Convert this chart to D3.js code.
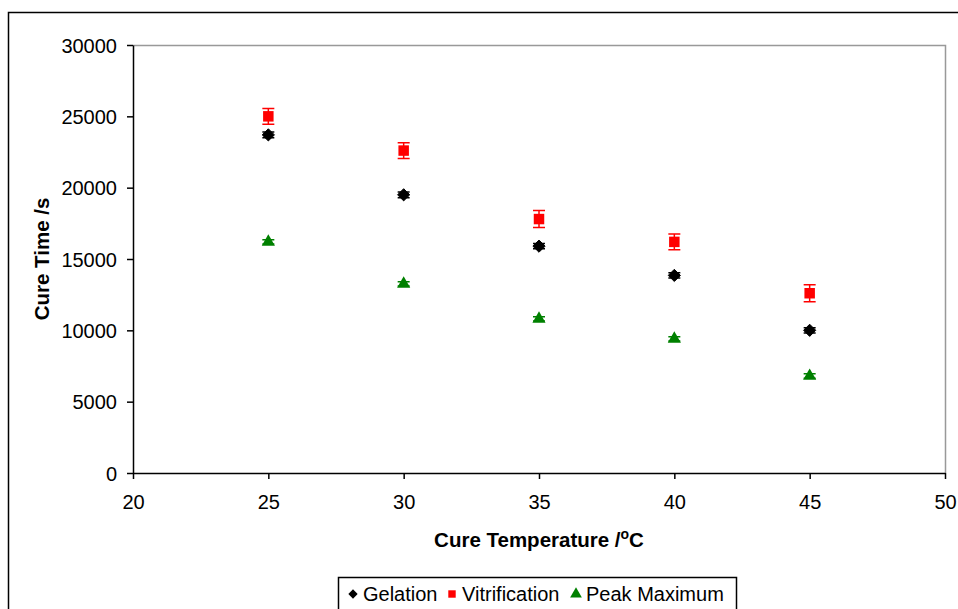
<!DOCTYPE html>
<html>
<head>
<meta charset="utf-8">
<script src="https://cdnjs.cloudflare.com/ajax/libs/d3/7.8.5/d3.min.js"></script>
<style>
  body { margin: 0; background: #fff; }
  text { font-family: "Liberation Sans", Arial, sans-serif; }
</style>
</head>
<body>
<div id="chart"></div>
<script>
var svgWidth = 958;
var svgHeight = 609;

var margin = { top: 45, right: 13, bottom: 136, left: 133 };
var width = svgWidth - margin.left - margin.right;
var height = svgHeight - margin.top - margin.bottom;

// data
var temps = [25, 30, 35, 40, 45];
var gelation = [23700, 19500, 15900, 13850, 10000];
var gelationErr = [200, 200, 180, 180, 180];
var vitrification = [25000, 22600, 17800, 16200, 12600];
var vitrificationErr = [550, 550, 600, 550, 600];
var peakMax = [16200, 13250, 10800, 9400, 6800];
var peakMaxErr = [150, 150, 150, 150, 150];
var xTicks = [20, 25, 30, 35, 40, 45, 50];
var yTicks = [0, 5000, 10000, 15000, 20000, 25000, 30000];

var seriesList = [
  { name: "Gelation", values: gelation, err: gelationErr, color: "#000000", shape: d3.symbolDiamond2, size: 95 },
  { name: "Vitrification", values: vitrification, err: vitrificationErr, color: "#ff0000", shape: d3.symbolSquare, size: 110 },
  { name: "Peak Maximum", values: peakMax, err: peakMaxErr, color: "#008000", shape: d3.symbolTriangle, size: 75 }
];

var svg = d3.select("#chart")
  .append("svg")
  .attr("width", svgWidth)
  .attr("height", svgHeight);

// outer chart border
svg.append("rect")
  .attr("x", 8.5).attr("y", 12.5)
  .attr("width", 960).attr("height", 620)
  .attr("fill", "none")
  .attr("stroke", "#000")
  .attr("stroke-width", 1.5);

var chartGroup = svg.append("g")
  .attr("transform", `translate(${margin.left}, ${margin.top})`);

var xScale = d3.scaleLinear().domain([20, 50]).range([0, width]);
var yScale = d3.scaleLinear().domain([0, 30000]).range([height, 0]);

// plot area top / right border (gray)
chartGroup.append("path")
  .attr("d", `M0,0.5H${width + 0.5}V${height}`)
  .attr("fill", "none")
  .attr("stroke", "#999")
  .attr("stroke-width", 1.5);

var bottomAxis = d3.axisBottom(xScale).tickValues(xTicks).tickSize(6).tickSizeOuter(0).tickPadding(16);
var leftAxis = d3.axisLeft(yScale).tickValues(yTicks).tickFormat(d3.format("d")).tickSize(6).tickSizeOuter(0).tickPadding(10);

var xg = chartGroup.append("g")
  .attr("transform", `translate(0, ${height})`)
  .call(bottomAxis);
var yg = chartGroup.append("g").call(leftAxis);

[xg, yg].forEach(function(g) {
  g.attr("font-size", 20).attr("font-family", "'Liberation Sans', Arial, sans-serif");
  g.selectAll("path, line").attr("stroke", "#000").attr("stroke-width", 1.5);
  g.selectAll("text").attr("fill", "#000");
});
yg.selectAll("text").attr("dy", "0.35em");

// series
seriesList.forEach(function(s) {
  var g = chartGroup.append("g");
  var pts = temps.map(function(t, i) { return { x: t, y: s.values[i], e: s.err[i] }; });

  g.selectAll(".err").data(pts).enter().append("path")
    .attr("d", function(d) {
      var x = xScale(d.x), y1 = yScale(d.y + d.e), y2 = yScale(d.y - d.e);
      return `M${x - 6},${y1}H${x + 6}M${x},${y1}V${y2}M${x - 6},${y2}H${x + 6}`;
    })
    .attr("fill", "none")
    .attr("stroke", s.color)
    .attr("stroke-width", 1.5);

  g.selectAll(".pt").data(pts).enter().append("path")
    .attr("transform", function(d) { return `translate(${xScale(d.x)}, ${yScale(d.y)})`; })
    .attr("d", d3.symbol().type(s.shape).size(s.size)())
    .attr("fill", s.color)
    .attr("stroke", s.shape === d3.symbolDiamond2 ? "#000" : "none");
});

// axis titles
var xTitle = svg.append("text")
  .attr("x", 539)
  .attr("y", 547)
  .attr("text-anchor", "middle")
  .attr("font-size", "20.5px")
  .attr("font-weight", "bold");
xTitle.append("tspan").text("Cure Temperature /");
xTitle.append("tspan").attr("font-size", "14px").attr("dy", "-8").text("o");
xTitle.append("tspan").attr("dy", "8").text("C");

svg.append("text")
  .attr("transform", `translate(49, 259) rotate(-90)`)
  .attr("text-anchor", "middle")
  .attr("font-size", "20.5px")
  .attr("font-weight", "bold")
  .text("Cure Time /s");

// legend
var legend = svg.append("g");
legend.append("rect")
  .attr("x", 338.5).attr("y", 577.5)
  .attr("width", 398).attr("height", 40)
  .attr("fill", "#fff")
  .attr("stroke", "#000")
  .attr("stroke-width", 1.5);

var legendX = [353, 452, 576];
seriesList.forEach(function(s, i) {
  var item = legend.append("g").attr("transform", `translate(${legendX[i]}, 594)`);
  item.append("path")
    .attr("d", d3.symbol().type(s.shape).size(s.shape === d3.symbolTriangle ? 60 : 55)())
    .attr("fill", s.color);
  item.append("text")
    .attr("x", 10)
    .attr("dy", "0.35em")
    .attr("font-size", "20px")
    .text(s.name);
});
</script>
</body>
</html>
